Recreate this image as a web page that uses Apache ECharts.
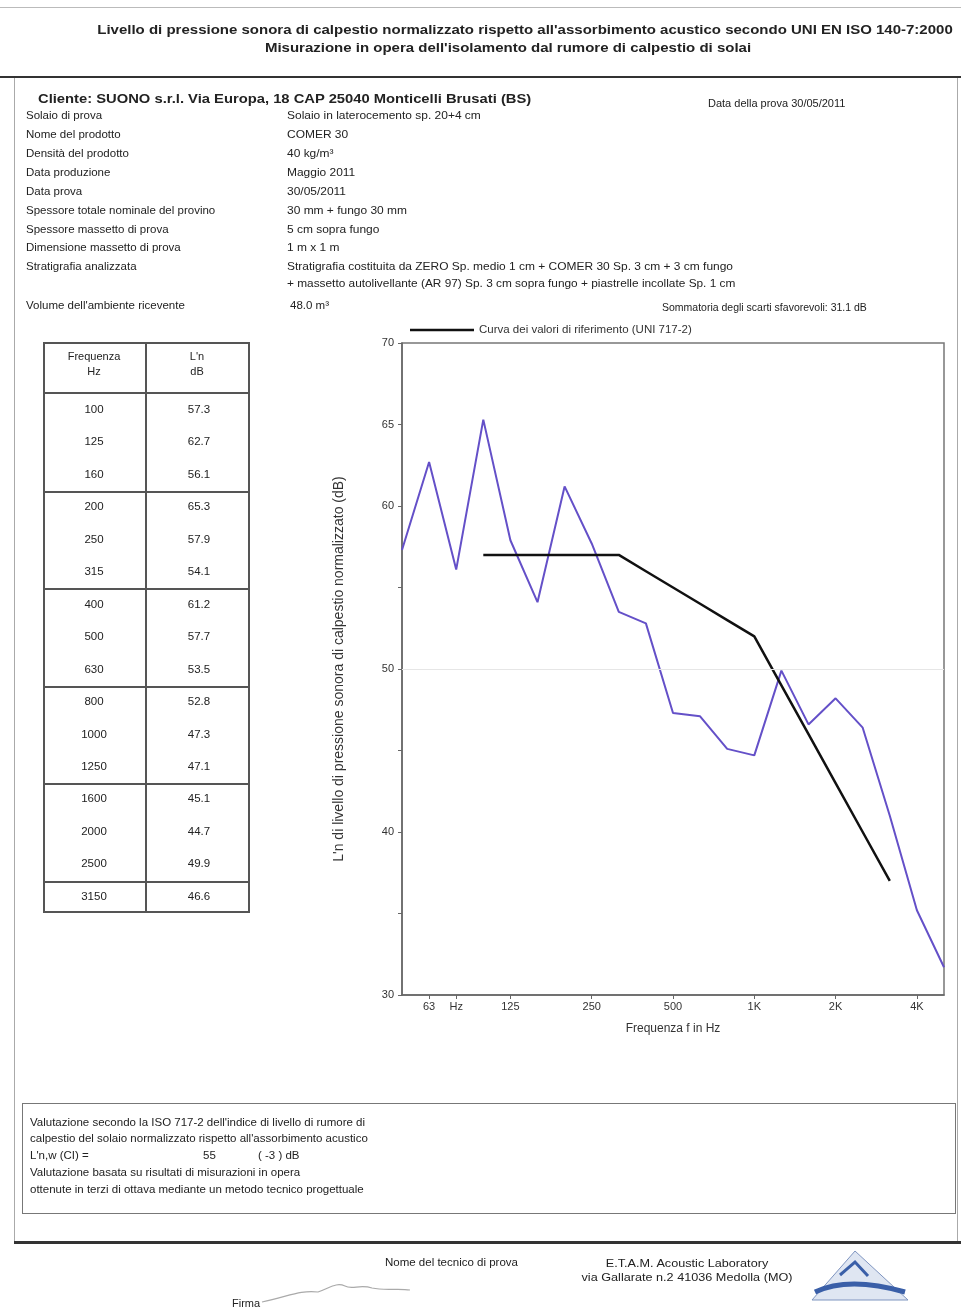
<!DOCTYPE html>
<html>
<head>
<meta charset="utf-8">
<script src="https://cdn.jsdelivr.net/npm/echarts@6/dist/echarts.min.js"></script>
<style>
  html,body{margin:0;padding:0;background:#fff;}
  #page{position:relative;width:961px;height:1311px;overflow:hidden;font-family:"Liberation Sans",Arial,sans-serif;color:#222;}
  #chart{position:absolute;left:0;top:0;width:961px;height:1311px;}
  .t{position:absolute;white-space:nowrap;transform:translateY(-50%);line-height:1;transform-origin:0 50%;}
  .ln{position:absolute;}
</style>
</head>
<body>
<div id="page">
  <div id="chart"></div>
</div>
<script>
// ---------- DATA ----------
const freqs = [50, 63, 80, 100, 125, 160, 200, 250, 315, 400, 500, 630, 800, 1000, 1250, 1600, 2000, 2500, 3150, 4000, 5000];
const measured = [57.3, 62.7, 56.1, 65.3, 57.9, 54.1, 61.2, 57.7, 53.5, 52.8, 47.3, 47.1, 45.1, 44.7, 49.9, 46.6, 48.2, 46.4, 41.0, 35.2, 31.7];
const reference = [null, null, null, 57, 57, 57, 57, 57, 57, 56, 55, 54, 53, 52, 49, 46, 43, 40, 37, null, null];
const xTickLabels = {63: '63', 80: 'Hz', 125: '125', 250: '250', 500: '500', 1000: '1K', 2000: '2K', 4000: '4K'};
const yTickLabels = [30, 40, 50, 60, 65, 70];
const tableFreqs = ['100', '125', '160', '200', '250', '315', '400', '500', '630', '800', '1000', '1250', '1600', '2000', '2500', '3150'];
const tableLn = ['57.3', '62.7', '56.1', '65.3', '57.9', '54.1', '61.2', '57.7', '53.5', '52.8', '47.3', '47.1', '45.1', '44.7', '49.9', '46.6'];
const refName = 'Curva dei valori di riferimento (UNI 717-2)';

const infoLabels = ['Solaio di prova', 'Nome del prodotto', 'Densità del prodotto', 'Data produzione', 'Data prova',
  'Spessore totale nominale del provino', 'Spessore massetto di prova', 'Dimensione massetto di prova', 'Stratigrafia analizzata'];
const infoValues = ['Solaio in laterocemento sp. 20+4 cm', 'COMER 30', '40 kg/m³', 'Maggio 2011', '30/05/2011',
  '30 mm + fungo 30 mm', '5 cm sopra fungo', '1 m x 1 m',
  'Stratigrafia costituita da ZERO Sp. medio 1 cm + COMER 30 Sp. 3 cm + 3 cm fungo'];

// ---------- PAGE TEXT ----------
const page = document.getElementById('page');
function t(x, y, s, css, sx) {
  const d = document.createElement('div');
  d.className = 't';
  d.textContent = s;
  d.style.left = x + 'px';
  d.style.top = y + 'px';
  d.style.fontSize = '11.5px';
  if (css) Object.assign(d.style, css);
  if (sx) d.style.transform = 'translateY(-50%) scaleX(' + sx + ')';
  page.appendChild(d);
  return d;
}
function line(x, y, w, h, color) {
  const d = document.createElement('div');
  d.className = 'ln';
  Object.assign(d.style, {left: x + 'px', top: y + 'px', width: w + 'px', height: h + 'px', background: color});
  page.appendChild(d);
}
function ctext(cx, y, s, css, sx) {
  const d = t(cx, y, s, css);
  d.style.transformOrigin = '50% 50%';
  d.style.transform = 'translate(-50%,-50%)' + (sx ? ' scaleX(' + sx + ')' : '');
  return d;
}

// frame lines
line(0, 7, 961, 1, '#bbb');
line(0, 76, 961, 2, '#333');
line(14, 78, 1, 1165, '#aaa');
line(957, 78, 1, 1165, '#aaa');
line(14, 1241, 947, 3, '#333');

// title
ctext(525, 30, 'Livello di pressione sonora di calpestio normalizzato rispetto all\'assorbimento acustico secondo UNI EN ISO 140-7:2000', {fontSize: '12.5px', fontWeight: 'bold'}, 1.2);
ctext(508, 48, 'Misurazione in opera dell\'isolamento dal rumore di calpestio di solai', {fontSize: '12.5px', fontWeight: 'bold'}, 1.2);

t(38, 99, 'Cliente: SUONO s.r.l. Via Europa, 18 CAP 25040 Monticelli Brusati (BS)', {fontSize: '12px', fontWeight: 'bold'}, 1.23);
t(708, 103, 'Data della prova 30/05/2011', {fontSize: '11px'});

const rowY = [116, 135, 154, 173, 192, 211, 230, 248, 267];
infoLabels.forEach((s, i) => t(26, rowY[i], s));
infoValues.forEach((s, i) => t(287, rowY[i], s, null, 1.04));
t(287, 284, '+ massetto autolivellante (AR 97) Sp. 3 cm sopra fungo + piastrelle incollate Sp. 1 cm', null, 1.03);
t(26, 306, 'Volume dell\'ambiente ricevente');
t(290, 306, '48.0 m³');
t(662, 307, 'Sommatoria degli scarti sfavorevoli: 31.1 dB', {fontSize: '10.5px'});

// table
const tx0 = 43, tx1 = 248, tmid = 145, ty0 = 342, tyh = 392, ty1 = 911;
line(tx0, ty0, tx1 - tx0, 2, '#555');
line(tx0, ty1, tx1 - tx0, 2, '#555');
line(tx0, ty0, 2, ty1 - ty0 + 2, '#555');
line(tx1, ty0, 2, ty1 - ty0 + 2, '#555');
line(tmid, ty0, 2, ty1 - ty0 + 2, '#555');
line(tx0, tyh, tx1 - tx0, 2, '#555');
ctext(94, 356, 'Frequenza', {fontSize: '11px'});
ctext(94, 371, 'Hz', {fontSize: '11px'});
ctext(197, 356, 'L\'n', {fontSize: '11px'});
ctext(197, 371, 'dB', {fontSize: '11px'});
const rowH = 32.45;
tableFreqs.forEach((f, i) => {
  const y = 410 + i * rowH;
  ctext(94, y, f, {fontSize: '11.5px'});
  ctext(199, y, tableLn[i], {fontSize: '11.5px'});
  if (i % 3 === 2) line(tx0, Math.round(y + rowH / 2), tx1 - tx0, 2, '#555');
});

// evaluation box
const box = document.createElement('div');
Object.assign(box.style, {position: 'absolute', left: '22px', top: '1103px', width: '934px', height: '111px', border: '1.5px solid #777', boxSizing: 'border-box'});
page.appendChild(box);
t(30, 1123, 'Valutazione secondo la ISO 717-2 dell\'indice di livello di rumore di');
t(30, 1139, 'calpestio del solaio normalizzato rispetto all\'assorbimento acustico');
t(30, 1156, 'L\'n,w (CI) =');
t(203, 1156, '55');
t(258, 1156, '( -3 ) dB');
t(30, 1173, 'Valutazione basata su risultati di misurazioni in opera');
t(30, 1190, 'ottenute in terzi di ottava mediante un metodo tecnico progettuale');

// footer
t(385, 1263, 'Nome del tecnico di prova', {fontSize: '11.5px'});
ctext(687, 1264, 'E.T.A.M. Acoustic Laboratory', {fontSize: '11.5px'}, 1.1);
ctext(687, 1278, 'via Gallarate n.2 41036 Medolla (MO)', {fontSize: '11.5px'}, 1.1);
t(232, 1303, 'Firma', {fontSize: '11px'});
const svgNS = 'http://www.w3.org/2000/svg';
const svg = document.createElementNS(svgNS, 'svg');
svg.setAttribute('width', '961'); svg.setAttribute('height', '1311');
Object.assign(svg.style, {position: 'absolute', left: '0', top: '0', pointerEvents: 'none'});
svg.innerHTML =
  '<path d="M262 1302 C 290 1296, 300 1290, 318 1292 C 330 1288, 336 1282, 345 1286 C 352 1290, 360 1284, 372 1288 C 385 1291, 398 1288, 410 1290" fill="none" stroke="#aaa" stroke-width="1.2"/>' +
  '<polygon points="855,1251 812,1300 908,1300" fill="#dfe6f2" stroke="#7f95c0" stroke-width="1"/>' +
  '<path d="M815 1292 C 840 1280, 870 1282, 905 1292" fill="none" stroke="#3a5fa8" stroke-width="5"/>' +
  '<path d="M840 1275 L855 1262 L868 1276" fill="none" stroke="#3a5fa8" stroke-width="3"/>';
page.appendChild(svg);

// ---------- CHART ----------
const chart = echarts.init(document.getElementById('chart'), null, {renderer: 'canvas'});
chart.setOption({
  animation: false,
  backgroundColor: 'transparent',
  grid: {left: 402, top: 343, width: 542, height: 652, show: true, borderColor: '#777', borderWidth: 1.5, containLabel: false},
  legend: {
    show: true, left: 405, top: 319, data: [refName], icon: 'rect', itemWidth: 64, itemHeight: 2.5, itemGap: 10,
    textStyle: {fontSize: 11.5, color: '#333', fontFamily: 'Liberation Sans'}
  },
  xAxis: {
    type: 'category', data: freqs.map(String), boundaryGap: false,
    axisLine: {lineStyle: {color: '#666', width: 1.5}},
    axisTick: {show: true, length: 4, interval: (i, v) => xTickLabels[v] !== undefined, lineStyle: {color: '#666'}},
    axisLabel: {interval: (i, v) => xTickLabels[v] !== undefined, formatter: v => xTickLabels[v] || '', fontSize: 11, color: '#333', margin: 6, fontFamily: 'Liberation Sans'},
    splitLine: {show: false},
    name: 'Frequenza f in Hz', nameLocation: 'middle', nameGap: 28,
    nameTextStyle: {fontSize: 12, color: '#333', fontFamily: 'Liberation Sans'}
  },
  yAxis: {
    type: 'value', min: 30, max: 70, interval: 5,
    axisLine: {show: true, lineStyle: {color: '#666', width: 1.5}},
    axisTick: {show: true, length: 4, lineStyle: {color: '#666'}},
    axisLabel: {formatter: v => yTickLabels.indexOf(v) >= 0 ? String(v) : '', fontSize: 11, color: '#333', margin: 8, fontFamily: 'Liberation Sans'},
    splitLine: {show: false},
    name: 'L\'n di livello di pressione sonora di calpestio normalizzato (dB)', nameLocation: 'middle', nameGap: 56, nameRotate: 90,
    nameTextStyle: {fontSize: 14, color: '#333', fontFamily: 'Liberation Sans'}
  },
  series: [
    {
      name: 'L\'n', type: 'line', data: measured, symbol: 'none',
      lineStyle: {color: '#6450c8', width: 2}, itemStyle: {color: '#6450c8'},
      markLine: {silent: true, symbol: 'none', label: {show: false}, lineStyle: {color: '#e6e6e6', width: 1, type: 'solid'}, data: [{yAxis: 50}]},
      z: 3
    },
    {
      name: refName, type: 'line', data: reference, symbol: 'none', connectNulls: false,
      lineStyle: {color: '#111', width: 2.5}, itemStyle: {color: '#111'}, z: 4
    }
  ]
});
</script>
</body>
</html>
